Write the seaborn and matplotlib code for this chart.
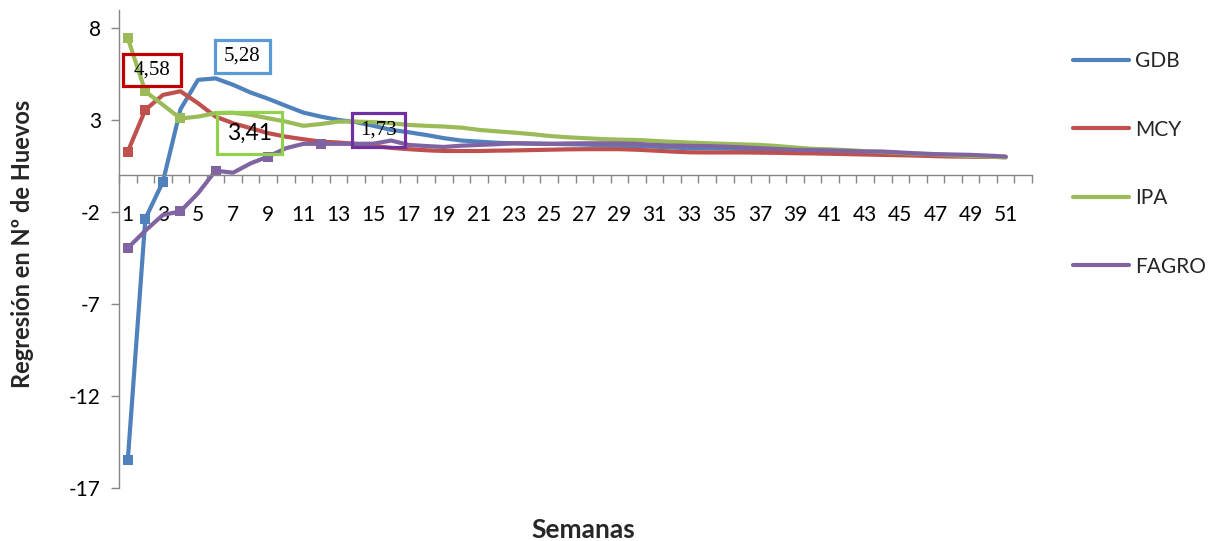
import matplotlib
matplotlib.use("Agg")
import matplotlib.pyplot as plt
from matplotlib.lines import Line2D
from matplotlib.patches import Rectangle
from matplotlib.ticker import FixedLocator, NullFormatter
import numpy as np
import pandas as pd
import seaborn as sns

# Weekly regression values (number of eggs) per group
weeks = list(range(1, 52))
gdb = [-15.5, -2.35, -0.35, 3.6, 5.2, 5.28, 4.93, 4.51, 4.17, 3.79,
       3.42, 3.2, 3.02, 2.9, 2.7, 2.48, 2.35, 2.2, 2.03, 1.9,
       1.84, 1.78, 1.75, 1.74, 1.72, 1.7, 1.68, 1.65, 1.62, 1.6,
       1.57, 1.52, 1.48, 1.47, 1.46, 1.44, 1.43, 1.38, 1.32, 1.3,
       1.28, 1.25, 1.2, 1.2, 1.16, 1.13, 1.1, 1.08, 1.05, 1.03, 1.0]
mcy = [1.3, 3.57, 4.38, 4.58, 3.93, 3.2, 2.84, 2.57, 2.3, 2.11,
       1.97, 1.84, 1.79, 1.72, 1.61, 1.5, 1.43, 1.37, 1.33, 1.33,
       1.33, 1.35, 1.36, 1.38, 1.4, 1.42, 1.43, 1.43, 1.43, 1.4,
       1.35, 1.3, 1.26, 1.25, 1.25, 1.25, 1.24, 1.23, 1.21, 1.2,
       1.18, 1.16, 1.14, 1.12, 1.1, 1.08, 1.05, 1.03, 1.02, 1.01, 1.0]
ipa = [7.47, 4.57, 3.84, 3.1, 3.2, 3.39, 3.41, 3.3, 3.11, 2.93,
       2.7, 2.8, 2.93, 2.93, 2.9, 2.84, 2.75, 2.7, 2.66, 2.6,
       2.48, 2.4, 2.33, 2.25, 2.15, 2.08, 2.03, 1.98, 1.95, 1.93,
       1.88, 1.83, 1.79, 1.75, 1.72, 1.69, 1.66, 1.6, 1.52, 1.45,
       1.42, 1.38, 1.32, 1.28, 1.22, 1.18, 1.15, 1.1, 1.06, 1.03, 0.98]
fagro = [-3.95, -3.0, -2.15, -1.95, -0.97, 0.26, 0.15, 0.66, 1.03, 1.48,
         1.72, 1.72, 1.72, 1.72, 1.73, 1.9, 1.66, 1.6, 1.55, 1.62,
         1.66, 1.7, 1.75, 1.73, 1.72, 1.74, 1.75, 1.75, 1.75, 1.72,
         1.66, 1.63, 1.61, 1.6, 1.57, 1.53, 1.48, 1.44, 1.39, 1.38,
         1.36, 1.33, 1.3, 1.3, 1.25, 1.2, 1.16, 1.14, 1.12, 1.08, 1.03]

groups = ["GDB", "MCY", "IPA", "FAGRO"]
colors = ["#4F81BD", "#C0504D", "#9BBB59", "#8064A2"]
# weeks that carry a square marker on each line
marked_weeks = {"GDB": [1, 2, 3], "MCY": [1, 2], "IPA": [1, 2, 4],
                "FAGRO": [1, 4, 6, 9, 12]}

df = pd.DataFrame({
    "Semana": weeks * 4,
    "Valor": gdb + mcy + ipa + fagro,
    "Grupo": np.repeat(groups, len(weeks)),
})

sns.set_theme(style="white")
plt.rcParams["font.family"] = ["Lato", "DejaVu Sans"]

fig = plt.figure(figsize=(12.1, 5.41), dpi=100)
ax = fig.add_axes([119 / 1210, 1 - 488 / 541, (1032 - 119) / 1210, (488 - 10) / 541])

for name, col in zip(groups, colors):
    sub = df[df["Grupo"] == name]
    sns.lineplot(data=sub, x="Semana", y="Valor", color=col, linewidth=3.0,
                 marker="s", markersize=7.5, markeredgewidth=0,
                 markevery=[w - 1 for w in marked_weeks[name]],
                 ax=ax, legend=False, solid_joinstyle="round")

ax.set_xlim(0.5, 52.5)
ax.set_ylim(-17, 9)

axis_grey = "#868686"
for s in ["top", "right"]:
    ax.spines[s].set_visible(False)
ax.spines["bottom"].set_position(("data", 0))
ax.spines["bottom"].set_color(axis_grey)
ax.spines["left"].set_color(axis_grey)
ax.spines["bottom"].set_linewidth(1.0)
ax.spines["left"].set_linewidth(1.0)

ax.set_xticks(weeks[::2])
ax.set_xticklabels([str(w) for w in weeks[::2]])
ax.xaxis.set_minor_locator(FixedLocator(np.arange(0.5, 53, 1.0)))
ax.xaxis.set_minor_formatter(NullFormatter())
ax.tick_params(axis="x", which="major", length=0, pad=21, labelsize=15,
               labelcolor="black")
ax.tick_params(axis="x", which="minor", length=6, width=1.0, color=axis_grey,
               direction="out", bottom=True)
yt = [-17, -12, -7, -2, 3, 8]
ax.set_yticks(yt)
ax.set_yticklabels([str(v) for v in yt])
ax.tick_params(axis="y", which="major", length=6, width=1.0, color=axis_grey,
               direction="out", left=True, labelsize=15, pad=7,
               labelcolor="black")

ax.set_xlabel("Semanas", fontsize=19, fontweight="bold")
ax.xaxis.set_label_coords(0.509, -0.062)
ax.set_ylabel("Regresión en Nº de Huevos", fontsize=17, fontweight="bold")
ax.yaxis.set_label_coords(-0.093, 0.51)


def fmt(v):
    return f"{v:.2f}".replace(".", ",")


# value call-outs: (value, box centre week, box centre y, box w, box h, colour, family, size)
callouts = [
    (mcy[3], 2.38, 5.75, 3.25, 1.74, "#C00000", ["Liberation Serif"], 15),
    (gdb[5], 7.53, 6.48, 3.13, 1.80, "#5B9BD5", ["Liberation Serif"], 15),
    (ipa[6], 7.93, 2.31, 3.70, 2.29, "#92D050", ["Lato"], 16.5),
    (fagro[14], 15.28, 2.48, 3.02, 1.85, "#7030A0", ["Liberation Serif"], 15),
]
for val, cx, cy, bw, bh, ec, fam, fs in callouts:
    ax.add_patch(Rectangle((cx - bw / 2, cy - bh / 2), bw, bh, fill=False,
                           edgecolor=ec, linewidth=2.3, zorder=5))
    ax.text(cx, cy, fmt(val), ha="center", va="center", fontsize=fs,
            family=fam, color="black", zorder=6)

handles = [Line2D([0], [0], color=c, linewidth=3.0, solid_capstyle="round")
           for c in colors]
fig.legend(handles, groups, loc="upper left",
           bbox_to_anchor=(1073 / 1210, 1 - 51 / 541), frameon=False,
           fontsize=15, handlelength=2.7, handletextpad=0.3,
           labelspacing=2.33, borderpad=0, borderaxespad=0)

fig.savefig("out.png", dpi=100, facecolor="white")
